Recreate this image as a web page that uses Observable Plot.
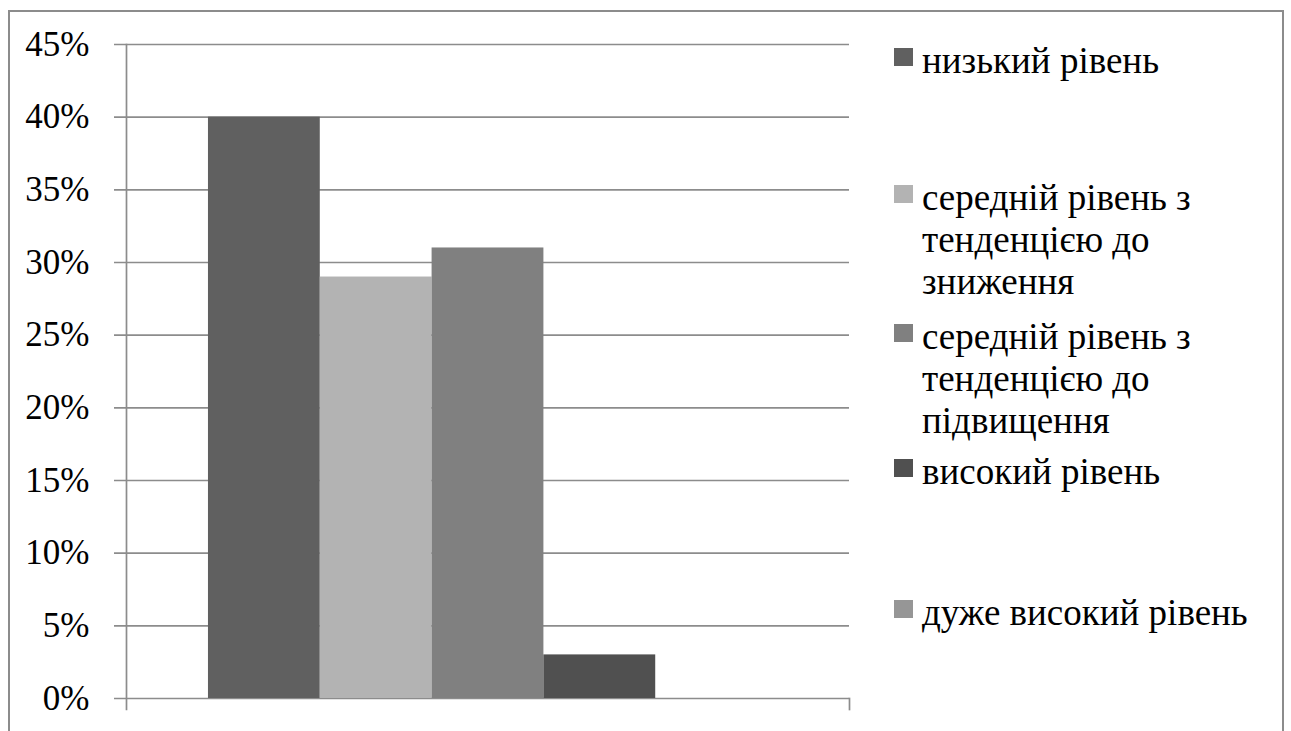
<!DOCTYPE html>
<html>
<head>
<meta charset="utf-8">
<script src="https://cdn.jsdelivr.net/npm/d3@7"></script>
<script src="https://cdn.jsdelivr.net/npm/@observablehq/plot@0.6"></script>
<style>
  html, body { margin: 0; padding: 0; background: #fff; }
  #wrap { position: relative; width: 1291px; height: 731px; overflow: hidden; font-family: 'Liberation Serif', serif; }
  #border { position: absolute; left: 8px; top: 10px; width: 1276px; height: 760px; border: 2px solid #8c8c8c; box-sizing: border-box; }
  #chart { position: absolute; left: 0; top: 0; }
  .item { position: absolute; left: 894px; font-size: 37px; line-height: 42px; color: #000; }
  .sw { position: absolute; left: 0; width: 19px; height: 18px; }
  .lbl { position: absolute; left: 28px; top: 0; white-space: nowrap; }
</style>
</head>
<body>
<div id="wrap">
  <div id="border"></div>
  <div id="chart"></div>
  <div id="legend"></div>
</div>
<script>
// Levels and their shares
const levels = [
  "низький рівень",
  "середній рівень з тенденцією до зниження",
  "середній рівень з тенденцією до підвищення",
  "високий рівень",
  "дуже високий рівень"
];
const legendLines = [
  ["низький рівень"],
  ["середній рівень з", "тенденцією до", "зниження"],
  ["середній рівень з", "тенденцією до", "підвищення"],
  ["високий рівень"],
  ["дуже високий рівень"]
];
const shares = [0.40, 0.29, 0.31, 0.03, 0.00];
const colors = ["#606060", "#b3b3b3", "#808080", "#505050", "#969696"];
const yTicks = [0, 0.05, 0.10, 0.15, 0.20, 0.25, 0.30, 0.35, 0.40, 0.45];
// baseline of the first line of each legend entry
const legendBaseline = [73, 210, 349, 484, 625];

const serif = "'Liberation Serif', serif";
const data = levels.map((name, i) => ({name, value: shares[i]}));
const gridColor = "#8c8c8c";

const chart = Plot.plot({
  width: 860,
  height: 731,
  marginLeft: 126,
  marginRight: 11,
  marginTop: 44,
  marginBottom: 33,
  style: {fontFamily: serif, fontSize: "35px", color: "#000", background: "transparent", overflow: "visible"},
  x: {domain: levels, paddingInner: 0, paddingOuter: 0.733, round: false, axis: null},
  y: {domain: [0, 0.45], label: null},
  color: {domain: levels, range: colors},
  marks: [
    Plot.ruleY(yTicks, {y: d => d, stroke: gridColor, strokeWidth: 1.7, insetLeft: -12}),
    Plot.barY(data, {x: "name", y: "value", fill: "name"}),
    Plot.frame({anchor: "left", stroke: gridColor, strokeWidth: 1.7, insetBottom: -11}),
    Plot.frame({anchor: "right", stroke: gridColor, strokeWidth: 1.7, insetTop: 654, insetBottom: -11}),
    Plot.axisY(yTicks, {tickSize: 0, tickPadding: 37, tickFormat: d3.format(".0%"), fontSize: 35, fontFamily: serif, label: null})
  ]
});
document.getElementById("chart").appendChild(chart);

// Legend to the right of the plot
const baselineOffset = (42 - 37 * 1.107) / 2 + 37 * 0.891;
const legend = document.getElementById("legend");
levels.forEach((name, i) => {
  const top = legendBaseline[i] - baselineOffset;
  const item = document.createElement("div");
  item.className = "item";
  item.style.fontFamily = serif;
  item.style.top = top + "px";
  const sw = document.createElement("div");
  sw.className = "sw";
  sw.style.background = colors[i];
  sw.style.top = (legendBaseline[i] - 25 - top) + "px";
  const lbl = document.createElement("div");
  lbl.className = "lbl";
  lbl.innerHTML = legendLines[i].join("<br>");
  item.appendChild(sw);
  item.appendChild(lbl);
  legend.appendChild(item);
});
</script>
</body>
</html>
